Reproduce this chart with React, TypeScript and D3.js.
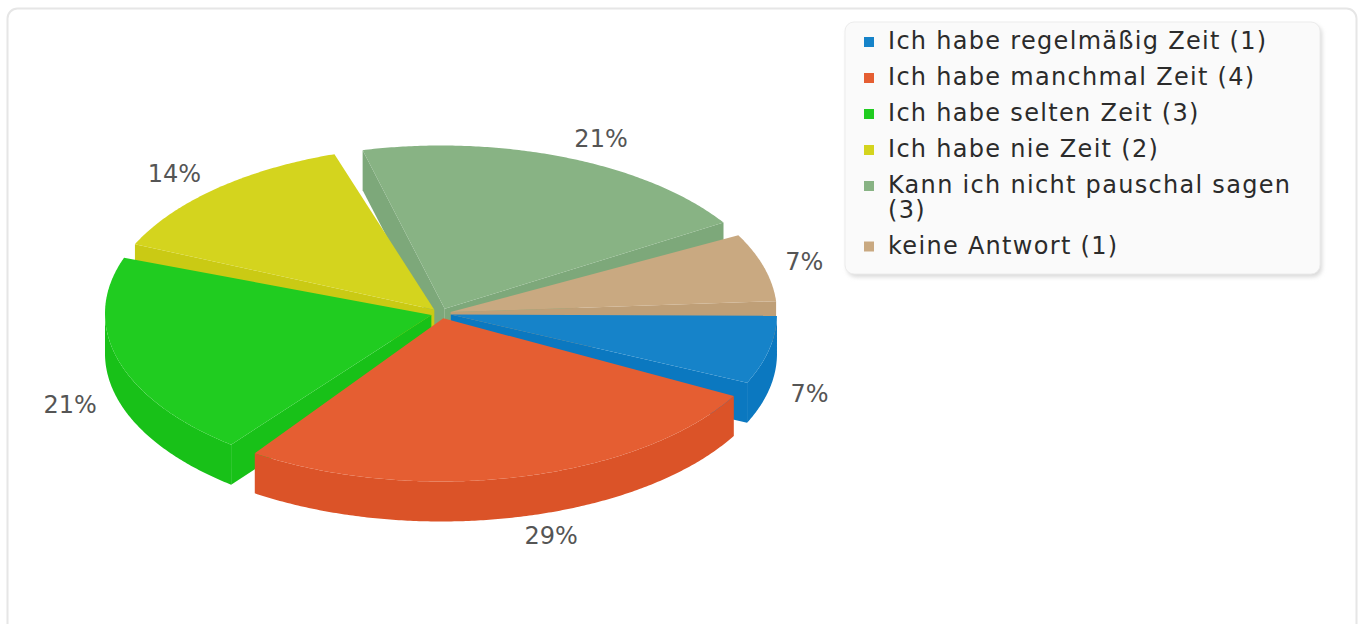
import React from "react";
import * as d3 from "d3";

// ---- data ----
const categories = [
  "Ich habe regelmäßig Zeit",
  "Ich habe manchmal Zeit",
  "Ich habe selten Zeit",
  "Ich habe nie Zeit",
  "Kann ich nicht pauschal sagen",
  "keine Antwort",
];
const counts = [1, 4, 3, 2, 3, 1];
const topColors = ["#1683c9", "#e55e32", "#20cc20", "#d4d41e", "#88b384", "#c9a981"];
const sideColors = ["#0b78c0", "#db5328", "#18c118", "#caca14", "#7da87a", "#bf9f77"];

// ---- layout ----
const W = 1363;
const H = 624;
const CX = 441;
const CY = 313.5;
const RX = 336;
const SKEW = 0.5;
const DEPTH = 40;
const GAP_R = 10;
const PAD_DEG = 5;
const START_DEG = 0.8;
const FONT = "'DejaVu Sans', Verdana, sans-serif";
const LEGEND_FS = 24;
const LEGEND_LS = 1.3;

const rad = (d: number) => (d * Math.PI) / 180;

const xs = d3.scaleLinear().domain([-1, 1]).range([CX - RX, CX + RX]);
const ys = d3.scaleLinear().domain([-1, 1]).range([CY - RX * SKEW, CY + RX * SKEW]);

function pt(theta: number, dz = 0): [number, number] {
  return [xs(Math.cos(theta)), ys(Math.sin(theta)) + dz];
}
function apex(mid: number, dz = 0): [number, number] {
  return [CX + GAP_R * Math.cos(mid), CY + GAP_R * SKEW * Math.sin(mid) + dz];
}
function arcPts(a0: number, a1: number, dz = 0): [number, number][] {
  const n = Math.max(2, Math.ceil(((a1 - a0) * 180) / Math.PI / 0.5));
  return d3.range(n + 1).map((i) => pt(a0 + ((a1 - a0) * i) / n, dz));
}
const poly = (pts: [number, number][]) => "M" + pts.map((p) => p[0].toFixed(2) + "," + p[1].toFixed(2)).join("L") + "Z";

function wrapText(text: string, maxW: number): string[] {
  let ctx: CanvasRenderingContext2D | null = null;
  try {
    ctx = document.createElement("canvas").getContext("2d");
  } catch (e) {
    ctx = null;
  }
  const measure = (s: string) => {
    if (!ctx) return s.length * LEGEND_FS * 0.62;
    ctx.font = `${LEGEND_FS}px ${FONT}`;
    return ctx.measureText(s).width + s.length * LEGEND_LS;
  };
  const words = text.split(" ");
  const lines: string[] = [];
  let cur = "";
  for (const w of words) {
    const t = cur ? cur + " " + w : w;
    if (measure(t) > maxW && cur) {
      lines.push(cur);
      cur = w;
    } else cur = t;
  }
  if (cur) lines.push(cur);
  return lines;
}

export default function App() {
  const total = d3.sum(counts);
  const pie = d3
    .pie<number>()
    .sort(null)
    .value((d) => d)
    .startAngle(rad(90 + START_DEG - PAD_DEG / 2))
    .endAngle(rad(450 + START_DEG - PAD_DEG / 2))
    .padAngle(rad(PAD_DEG));
  const arcs = pie(counts);

  const slices = arcs.map((a, i) => {
    const a0 = a.startAngle + a.padAngle / 2 - Math.PI / 2;
    const a1 = a.endAngle - a.padAngle / 2 - Math.PI / 2;
    const mid = (a0 + a1) / 2;
    return { i, a0, a1, mid };
  });

  const order = [...slices].sort((p, q) => Math.sin(p.mid) - Math.sin(q.mid));

  const sliceEls = order.map((s) => {
    const parts: JSX.Element[] = [];
    const ap = apex(s.mid);
    const apB = apex(s.mid, DEPTH);
    const norm = (t: number) => ((t % (2 * Math.PI)) + 2 * Math.PI) % (2 * Math.PI);
    // radial walls
    if (Math.cos(s.a0) < 0) {
      parts.push(
        <path key="ws" d={poly([ap, pt(s.a0), pt(s.a0, DEPTH), apB])} fill={sideColors[s.i]} />
      );
    }
    if (Math.cos(s.a1) > 0) {
      parts.push(
        <path key="we" d={poly([ap, pt(s.a1), pt(s.a1, DEPTH), apB])} fill={sideColors[s.i]} />
      );
    }
    // outer wall (front half only)
    let b0 = norm(s.a0);
    let b1 = b0 + (s.a1 - s.a0);
    const lo = Math.max(b0, 0);
    const hi = Math.min(b1, Math.PI);
    if (hi > lo) {
      const top = arcPts(lo, hi);
      const bot = arcPts(lo, hi, DEPTH).reverse();
      parts.push(<path key="wo" d={poly([...top, ...bot])} fill={sideColors[s.i]} />);
    }
    parts.push(
      <path key="top" d={poly([ap, ...arcPts(s.a0, s.a1)])} fill={topColors[s.i]} />
    );
    return <g key={s.i}>{parts}</g>;
  });

  const labelEls = slices.map((s) => {
    const pct = Math.round((counts[s.i] / total) * 100) + "%";
    const c = Math.cos(s.mid);
    const sn = Math.sin(s.mid);
    const x = CX + (RX + 22) * c;
    const y = CY + (RX * SKEW + 20) * sn + (sn > 0 ? DEPTH : 0);
    return (
      <text
        key={"l" + s.i}
        x={x}
        y={y}
        fontSize={24}
        fontFamily={FONT}
        fill="#555555"
        textAnchor={c >= 0 ? "start" : "end"}
        dominantBaseline="central"
      >
        {pct}
      </text>
    );
  });

  // legend
  const legendItems: JSX.Element[] = [];
  let baseY = 49;
  categories.forEach((cat, i) => {
    const lines = wrapText(`${cat} (${counts[i]})`, 420);
    legendItems.push(
      <g key={"lg" + i}>
        <rect x={864} y={baseY - 12} width={10} height={10} fill={topColors[i]} />
        <text
          x={888}
          y={baseY}
          fontSize={LEGEND_FS}
          fontFamily={FONT}
          fill="#2b2b2b"
          letterSpacing={LEGEND_LS}
        >
          {lines.map((ln, j) => (
            <tspan key={j} x={888} dy={j === 0 ? 0 : 24.5}>
              {ln}
            </tspan>
          ))}
        </text>
      </g>
    );
    baseY += 36 + (lines.length - 1) * 24.5;
  });

  return (
    <svg
      width={W}
      height={H}
      style={{ position: "absolute", left: 0, top: 0, background: "#ffffff" }}
    >
      <defs>
        <filter id="sh" x="-5%" y="-5%" width="110%" height="120%">
          <feGaussianBlur stdDeviation="2" />
        </filter>
      </defs>
      <rect x={7.5} y={8.5} width={1349} height={640} rx={10} fill="#ffffff" stroke="#e6e6e6" strokeWidth={2} />
      <g>{sliceEls}</g>
      <g>{labelEls}</g>
      <rect x={847} y={25} width={475} height={252} rx={9} fill="#d8d8d8" filter="url(#sh)" />
      <rect x={845} y={22} width={475} height={252} rx={9} fill="#fafafa" stroke="#ececec" strokeWidth={1} />
      <g>{legendItems}</g>
    </svg>
  );
}
